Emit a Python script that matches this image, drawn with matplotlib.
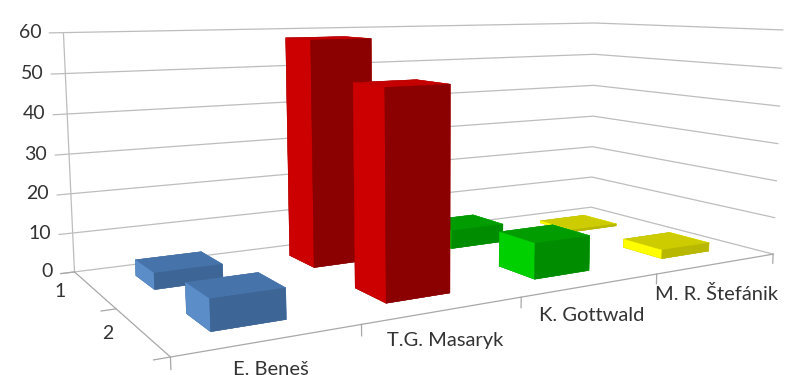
import numpy as np
import matplotlib.pyplot as plt
from matplotlib.transforms import offset_copy

categories = ['E. Beneš', 'T.G. Masaryk', 'K. Gottwald', 'M. R. Štefánik']
series_names = ['1', '2']
series1 = [4, 58, 5, 0.6]
series2 = [7, 49, 9, 2.3]
z_ticks = [0, 10, 20, 30, 40, 50, 60]

# (top, front, side) shades for each category
shades = [
    ('#4673AA', '#3D6595', '#5B8DC8'),
    ('#C40000', '#8B0000', '#CC0000'),
    ('#009C00', '#008C00', '#00D000'),
    ('#CCCC00', '#B8B800', '#FFFF00'),
]

plt.rcParams['font.family'] = ['Lato', 'DejaVu Sans']
text_color = '#333333'
grid_color = '#bdbdbd'

fig = plt.figure(figsize=(7.85, 3.75), dpi=100)
ax = fig.add_axes([0.048, 0.09, 1, 1], projection='3d')
ax.set_axis_off()
ax.set_proj_type('persp', focal_length=0.55)
ax.view_init(elev=8, azim=-121)

n_cat = len(categories)
x_pos = np.arange(1, n_cat + 1)
# series 1 sits at the back, series 2 at the front
y_pos = {0: 2, 1: 1}
bw, bd = 0.41, 0.4
x0, x1 = 0.5, n_cat + 0.5
y0, y1 = 0.5, 2.5

# walls: horizontal gridlines on the back and right-hand side
for z in z_ticks:
    ax.plot([x0 - 0.08, x0, x1, x1], [y1, y1, y1, y0], [z, z, z, z],
            color=grid_color, lw=0.9, clip_on=False)
# axis lines
ax.plot([x0, x0], [y1, y1], [0, 60], color=grid_color, lw=0.9, clip_on=False)
ax.plot([x0, x0, x1], [y1, y0, y0], [0, 0, 0], color='#a8a8a8', lw=0.9,
        clip_on=False)
for xt in np.arange(x0, x1 + 0.01, 1.0):
    ax.plot([xt, xt], [y0, y0], [0, -2.5], color='#a8a8a8', lw=0.9,
            clip_on=False)
for yt in [0.5, 1.5, 2.5]:
    ax.plot([x0, x0 - 0.08], [yt, yt], [0, 0], color='#a8a8a8', lw=0.9,
            clip_on=False)

xs, ys, hs, cols = [], [], [], []
for si, vals in enumerate([series1, series2]):
    for ci, v in enumerate(vals):
        xs.append(x_pos[ci] - bw / 2)
        ys.append(y_pos[si] - bd / 2)
        hs.append(v)
        top, front, side = shades[ci]
        # bar3d face order: bottom, top, -y, +y, -x, +x
        cols.extend([front, top, front, front, side, side])

bars = ax.bar3d(xs, ys, np.zeros(len(xs)), bw, bd, hs, color=cols,
                shade=False, edgecolor=cols, linewidth=0.3)
bars.set_clip_on(False)

ax.set_xlim(x0, x1)
ax.set_ylim(y0, y1)
ax.set_zlim(0, 60)
ax.set_box_aspect((2.9, 1.35, 1.05), zoom=1.94)

# tick labels, anchored on the axes and nudged by a fixed pixel offset
z_lab = offset_copy(ax.transData, fig=fig, x=-22, y=0, units='dots')
y_lab = offset_copy(ax.transData, fig=fig, x=-28, y=-2, units='dots')
x_lab = offset_copy(ax.transData, fig=fig, x=0, y=-30, units='dots')
for z in z_ticks:
    ax.text(x0, y1, z, str(z), ha='right', va='center', fontsize=14,
            color=text_color, transform=z_lab)
for si, name in enumerate(series_names):
    ax.text(x0, y_pos[si], 0, name, ha='right', va='center',
            fontsize=14, color=text_color, transform=y_lab)
for ci, name in enumerate(categories):
    ax.text(x_pos[ci], y0, 0, name, ha='center', va='center',
            fontsize=14.5, color=text_color, transform=x_lab)

fig.savefig('out.png', dpi=100)
